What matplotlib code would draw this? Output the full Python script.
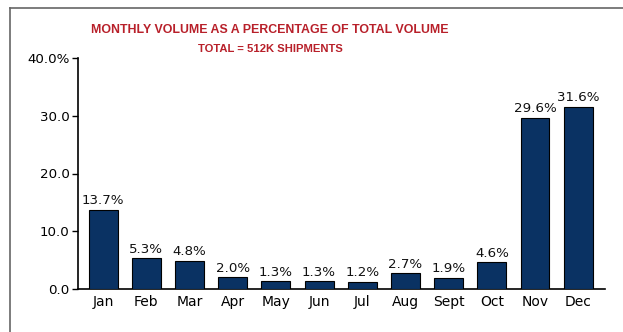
import matplotlib
matplotlib.use("Agg")
import matplotlib.pyplot as plt
from matplotlib.lines import Line2D

months = ["Jan", "Feb", "Mar", "Apr", "May", "Jun", "Jul", "Aug", "Sept", "Oct", "Nov", "Dec"]
values = [13.7, 5.3, 4.8, 2.0, 1.3, 1.3, 1.2, 2.7, 1.9, 4.6, 29.6, 31.6]
yticks = [0, 10, 20, 30, 40]
ytick_labels = ["0.0", "10.0", "20.0", "30.0", "40.0%"]

W, H = 623, 332
fig = plt.figure(figsize=(W / 100, H / 100), dpi=100)
ax = fig.add_axes([78 / W, (H - 289) / H, (605 - 78) / W, (289 - 58) / H])

x = list(range(len(months)))
bars = ax.bar(x, values, width=0.67, color="#0a3263", edgecolor="#000000", linewidth=0.8, zorder=3)
for xi, v in zip(x, values):
    ax.text(xi, v + 0.5, f"{v:.1f}%", ha="center", va="bottom",
            fontsize=9.6, family="DejaVu Sans", color="#111111")

ax.set_xlim(-0.58, 11.62)
ax.set_ylim(0, 40)
ax.set_yticks(yticks)
ax.set_yticklabels(ytick_labels, fontsize=9.6, family="DejaVu Sans")
ax.set_xticks(x)
ax.set_xticklabels(months, fontsize=10, family="DejaVu Sans")
ax.tick_params(axis="x", length=0, pad=4)
ax.tick_params(axis="y", length=4, width=1, direction="out", pad=2)
for s in ["top", "right"]:
    ax.spines[s].set_visible(False)
ax.spines["left"].set_linewidth(1.2)
ax.spines["bottom"].set_linewidth(1.2)

title_color = "#b8202a"
fig.text(270 / W, 1 - 30 / H, "MONTHLY VOLUME AS A PERCENTAGE OF TOTAL VOLUME",
         ha="center", va="center", fontsize=8.9, fontweight="bold",
         family="Liberation Sans", color=title_color)
fig.text(270 / W, 1 - 49 / H, "TOTAL = 512K SHIPMENTS",
         ha="center", va="center", fontsize=8.1, fontweight="bold",
         family="Liberation Sans", color=title_color)

# outer frame (left and top edges)
fig.add_artist(Line2D([10 / W, 10 / W], [0, 1 - 8 / H], transform=fig.transFigure, color="#666666", linewidth=1.2))
fig.add_artist(Line2D([10 / W, 1], [1 - 8 / H, 1 - 8 / H], transform=fig.transFigure, color="#666666", linewidth=1.2))

fig.savefig("out.png", dpi=100)
